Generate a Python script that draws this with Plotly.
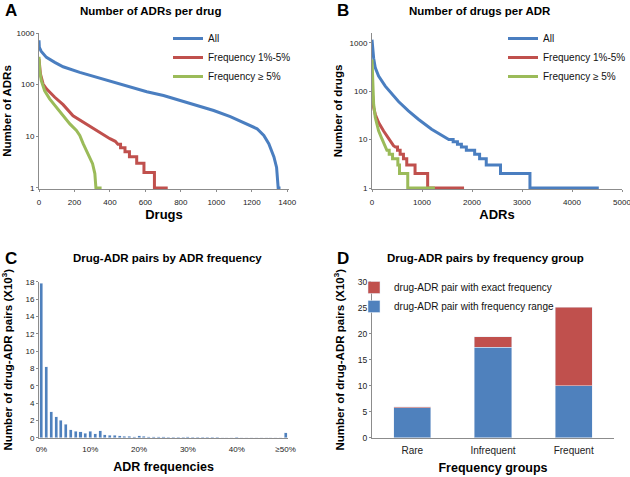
import plotly.graph_objects as go

# ── Data ──────────────────────────────────────────────────────────────────
# A: number of ADRs per drug (drugs ranked)
a_all_x = [0, 2, 13, 42, 89, 136, 230, 325, 419, 513, 608, 702, 796, 891, 985,
           1079, 1174, 1230, 1268, 1296, 1325, 1340, 1349, 1362]
a_all_y = [725, 525, 438, 337, 270, 222, 173, 139, 113, 91, 73, 61.5, 49, 39, 31.6,
           24, 17, 14, 10.4, 7.2, 4, 2.5, 1, 1]
a_mid_x = [0, 8, 23, 42, 89, 136, 192, 249, 325, 400, 430, 445, 460, 460, 485, 485,
           510, 510, 551, 551, 592, 592, 651, 651, 726]
a_mid_y = [315, 161, 103, 83, 57, 41, 25, 18.7, 13, 9, 8, 7, 7, 6, 6, 5,
           5, 4, 4, 3, 3, 2, 2, 1, 1]
a_high_x = [0, 4, 13, 32, 60, 98, 136, 174, 211, 230, 249, 268, 287, 302, 315, 321, 353]
a_high_y = [347, 187, 120, 76, 53, 36.6, 25, 17.4, 13, 10.4, 7.2, 5.3, 4, 2.95, 1.9, 1, 1]

# B: number of drugs per ADR (ADRs ranked)
b_all_x = [0, 33, 66, 132, 265, 397, 530, 728, 927, 1192, 1457, 1536,
           1623, 1623, 1709, 1709, 1788, 1788, 1887, 1887, 2053, 2053, 2152, 2152,
           2285, 2285, 2570, 2570, 3159, 3159, 4536]
b_all_y = [1150, 480, 302, 204, 127, 86, 61, 39, 26.3, 16.4, 11, 10,
           10, 9, 9, 8, 8, 7, 7, 6, 6, 5, 5, 4,
           4, 3, 3, 2, 2, 1, 1]
b_mid_x = [0, 33, 66, 132, 232, 331, 430, 470, 510, 510, 563, 563, 629, 629, 695, 695,
           861, 861, 1113, 1113, 1841]
b_mid_y = [110, 46, 33, 22.5, 15, 10.3, 7.5, 7, 7, 6, 6, 5, 5, 4, 4, 3,
           3, 2, 2, 1, 1]
b_high_x = [0, 13, 33, 66, 132, 199, 265, 298, 344, 344, 411, 411, 517, 517, 550, 550,
            715, 715, 1258]
b_high_y = [450, 117, 53.5, 28.5, 15.2, 10.3, 7.5, 6, 6, 5, 5, 4, 4, 3, 3, 2,
            2, 1, 1]

# C: drug-ADR pairs by ADR frequency (x10^3)
c_bins = [f"{i}%" for i in range(50)] + ["≥50%"]
c_pairs = [17.8, 8.2, 3.0, 2.4, 2.04, 1.54, 0.9, 0.73, 0.69, 0.54,
           0.73, 0.46, 0.8, 0.33, 0.3, 0.27, 0.22, 0.18, 0.15, 0.13,
           0.22, 0.15, 0.12, 0.11, 0.1, 0.12, 0.08, 0.07, 0.08, 0.05,
           0.1, 0.04, 0.04, 0.06, 0.03, 0.03, 0.03, 0.02, 0.02, 0.02,
           0.03, 0.02, 0.02, 0.02, 0.02, 0.02, 0.01, 0.01, 0.01, 0.01,
           0.55]
c_ticks = ["0%", "10%", "20%", "30%", "40%", "≥50%"]

# D: drug-ADR pairs by frequency group (x10^3)
d_groups = ["Rare", "Infrequent", "Frequent"]
d_range = [5.8, 17.4, 10.0]
d_exact = [0.2, 2.0, 15.1]

# ── Style ─────────────────────────────────────────────────────────────────
BLUE, RED, GREEN = "#4A7EC0", "#C0504D", "#9BBB59"
BAR_BLUE = "#4F81BD"
FONT = "Liberation Sans, Arial, sans-serif"
W, H = 630, 477


def px(x):
    return x / W


def py(y):
    return 1 - y / H


def axis(tick_size=8, ticks="outside", **kw):
    base = dict(showline=True, linecolor="#8c8c8c", linewidth=1, showgrid=False,
                zeroline=False, ticks=ticks, ticklen=2, tickcolor="#8c8c8c",
                tickfont=dict(size=tick_size, color="#222"), automargin=False,
                ticklabeloverflow="allow")
    base.update(kw)
    return base


def atitle(text, size, standoff):
    return dict(text=text, font=dict(size=size, weight="bold", color="#000"),
                standoff=standoff)


fig = go.Figure()

line_sets = [
    ("x", "y", "legend", a_all_x, a_all_y, a_mid_x, a_mid_y, a_high_x, a_high_y),
    ("x2", "y2", "legend2", b_all_x, b_all_y, b_mid_x, b_mid_y, b_high_x, b_high_y),
]
for xa, ya, lg, ax_, ay_, mx_, my_, hx_, hy_ in line_sets:
    for name, xs, ys, col in [("All", ax_, ay_, BLUE),
                              ("Frequency 1%-5%", mx_, my_, RED),
                              ("Frequency ≥ 5%", hx_, hy_, GREEN)]:
        fig.add_trace(go.Scatter(x=xs, y=ys, mode="lines", name=name,
                                 line=dict(color=col, width=3),
                                 xaxis=xa, yaxis=ya, legend=lg))

fig.add_trace(go.Bar(x=c_bins, y=c_pairs, marker_color=BAR_BLUE, width=0.62,
                     xaxis="x3", yaxis="y3", showlegend=False))

fig.add_trace(go.Bar(x=d_groups, y=d_range, name="drug-ADR pair with frequency range",
                     marker_color=BAR_BLUE, width=0.46, xaxis="x4", yaxis="y4",
                     legend="legend3"))
fig.add_trace(go.Bar(x=d_groups, y=d_exact, name="drug-ADR pair with exact frequency",
                     marker_color=RED, width=0.46, xaxis="x4", yaxis="y4",
                     legend="legend3"))

# ── Axes ──────────────────────────────────────────────────────────────────
fig.update_layout(
    xaxis=axis(domain=[px(39), px(289)], range=[0, 1410], dtick=200, anchor="y",
               ticklabelstandoff=3, title=atitle("Drugs", 13, 2)),
    yaxis=axis(domain=[py(189), py(33)], type="log", range=[-0.02, 3.0],
               tickvals=[1, 10, 100, 1000], anchor="x",
               title=atitle("Number of ADRs", 11.5, 2)),
    xaxis2=axis(domain=[px(372), px(622)], range=[0, 5000], dtick=1000, anchor="y2",
                ticklabelstandoff=3, title=atitle("ADRs", 13, 2)),
    yaxis2=axis(domain=[py(189), py(33)], type="log", range=[-0.02, 3.2],
                tickvals=[1, 10, 100, 1000], anchor="x2",
                title=atitle("Number of drugs", 11.5, 4)),
    xaxis3=axis(ticks="", domain=[px(39), px(288)], type="category",
                tickvals=c_ticks, anchor="y3", ticklabelstandoff=4,
                title=atitle("ADR frequencies", 12.5, 8)),
    yaxis3=axis(domain=[py(437.7), py(281.7)], range=[0, 18], dtick=2, anchor="x3",
                title=atitle("Number of drug-ADR pairs (X10<sup>3</sup>)", 11.5, 10)),
    xaxis4=axis(tick_size=10, ticks="", domain=[px(372), px(614)], type="category",
                anchor="y4", ticklabelstandoff=3,
                title=atitle("Frequency groups", 12.5, 8)),
    yaxis4=axis(tick_size=8.5, domain=[py(437.7), py(281.7)], range=[0, 30], dtick=5,
                anchor="x4",
                title=atitle("Number of drug-ADR pairs (X10<sup>3</sup>)", 11.5, 10)),
)

# ── Legends ───────────────────────────────────────────────────────────────
leg = dict(bgcolor="rgba(0,0,0,0)", font=dict(size=10, color="#111"),
           xanchor="left", yanchor="top", tracegroupgap=0, itemwidth=30)
fig.update_layout(
    legend=dict(**leg, x=px(168), y=py(24), traceorder="normal"),
    legend2=dict(**leg, x=px(503), y=py(24), traceorder="normal"),
    legend3=dict(**leg, x=px(354), y=py(273), traceorder="reversed"),
)

# ── Panel titles & letters ────────────────────────────────────────────────
notes = [
    ("A", 3, 11, 17, "left"), ("B", 335, 11, 17, "left"),
    ("C", 3, 258, 17, "left"), ("D", 335, 258, 17, "left"),
    ("Number of ADRs per drug", 150, 11, 11.5, "center"),
    ("Number of drugs per ADR", 480, 11, 11.5, "center"),
    ("Drug-ADR pairs by ADR frequency", 167, 258, 11.5, "center"),
    ("Drug-ADR pairs by frequency group", 485, 258, 11.5, "center"),
]
for text, x, y, size, anchor in notes:
    fig.add_annotation(text=f"<b>{text}</b>", x=px(x), y=py(y), xref="paper", yref="paper",
                       xanchor=anchor, yanchor="middle", showarrow=False,
                       font=dict(size=size, color="#000"))

fig.update_layout(
    width=W, height=H, margin=dict(l=0, r=0, t=0, b=0, autoexpand=False),
    plot_bgcolor="white", paper_bgcolor="white",
    font=dict(family=FONT, color="#000"),
    barmode="stack",
)

# page body has a default 8px margin; drop it so the figure fills the window
fig.write_html("out.html", config={"displayModeBar": False},
               post_script="document.body.style.margin='0';document.body.style.padding='0';")
